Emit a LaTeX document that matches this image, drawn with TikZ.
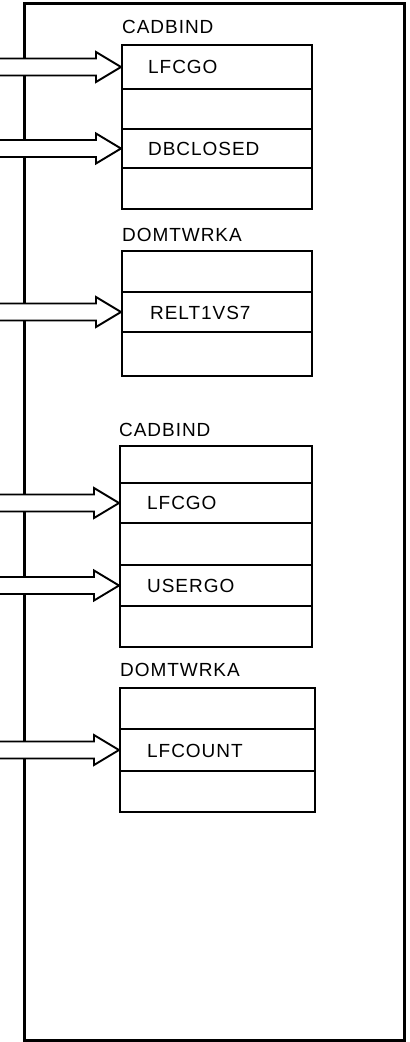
\documentclass[tikz,border=0pt]{standalone}
\usepackage{fontspec}
\setmainfont{Liberation Sans}[LetterSpace=5]
\begin{document}
\begin{tikzpicture}[x=1bp,y=-1bp,
  outer/.style={draw,line width=3bp},
  cell/.style={draw,line width=2bp,inner sep=0pt},
  lbl/.style={anchor=west,inner sep=0pt,font=\fontsize{19bp}{22bp}\selectfont},
  fatarr/.style={draw,fill=white,line width=1.9bp,line join=miter}]
\useasboundingbox (0,0) rectangle (409,1042);
\newcommand\cellrow[5]{\node[cell,minimum width={(#4-#2)*1bp},minimum height={(#5-#3)*1bp}] (#1) at ({(#2+#4)/2},{(#3+#5)/2}) {};}
\newcommand\fatarrow[1]{\draw[fatarr] (#1) -- ++(-25,-15) -- ++(0,6.5) -- ++(-130,0) -- ++(0,17) -- ++(130,0) -- ++(0,6.5) -- cycle;}
% outer frame
\node[outer,minimum width=379bp,minimum height=1036bp,inner sep=0pt] (frame) at (214.5,522) {};
% block 1
\node[lbl] (l1) at (122,27) {CADBIND};
\cellrow{a1}{122}{45}{312}{89}
\cellrow{a2}{122}{89}{312}{129}
\cellrow{a3}{122}{129}{312}{168}
\cellrow{a4}{122}{168}{312}{209}
\node[lbl] (ta1) at (148,67) {LFCGO};
\node[lbl] (ta3) at (148,149) {DBCLOSED};
% block 2
\node[lbl] (l2) at (122,235) {DOMTWRKA};
\cellrow{b1}{122}{251}{312}{292}
\cellrow{b2}{122}{292}{312}{332}
\cellrow{b3}{122}{332}{312}{376}
\node[lbl] (tb2) at (150,313) {RELT1VS7};
% block 3
\node[lbl] (l3) at (119,430) {CADBIND};
\cellrow{c1}{120}{446}{312}{483}
\cellrow{c2}{120}{483}{312}{523}
\cellrow{c3}{120}{523}{312}{565}
\cellrow{c4}{120}{565}{312}{606}
\cellrow{c5}{120}{606}{312}{647}
\node[lbl] (tc2) at (147,503) {LFCGO};
\node[lbl] (tc4) at (147,586) {USERGO};
% block 4
\node[lbl] (l4) at (120,670) {DOMTWRKA};
\cellrow{d1}{120}{688}{315}{729}
\cellrow{d2}{120}{729}{315}{771}
\cellrow{d3}{120}{771}{315}{812}
\node[lbl] (td2) at (147,751) {LFCOUNT};
% arrows
\fatarrow{a1.west}
\fatarrow{a3.west}
\fatarrow{b2.west}
\fatarrow{c2.west}
\fatarrow{c4.west}
\fatarrow{d2.west}
\end{tikzpicture}
\end{document}
